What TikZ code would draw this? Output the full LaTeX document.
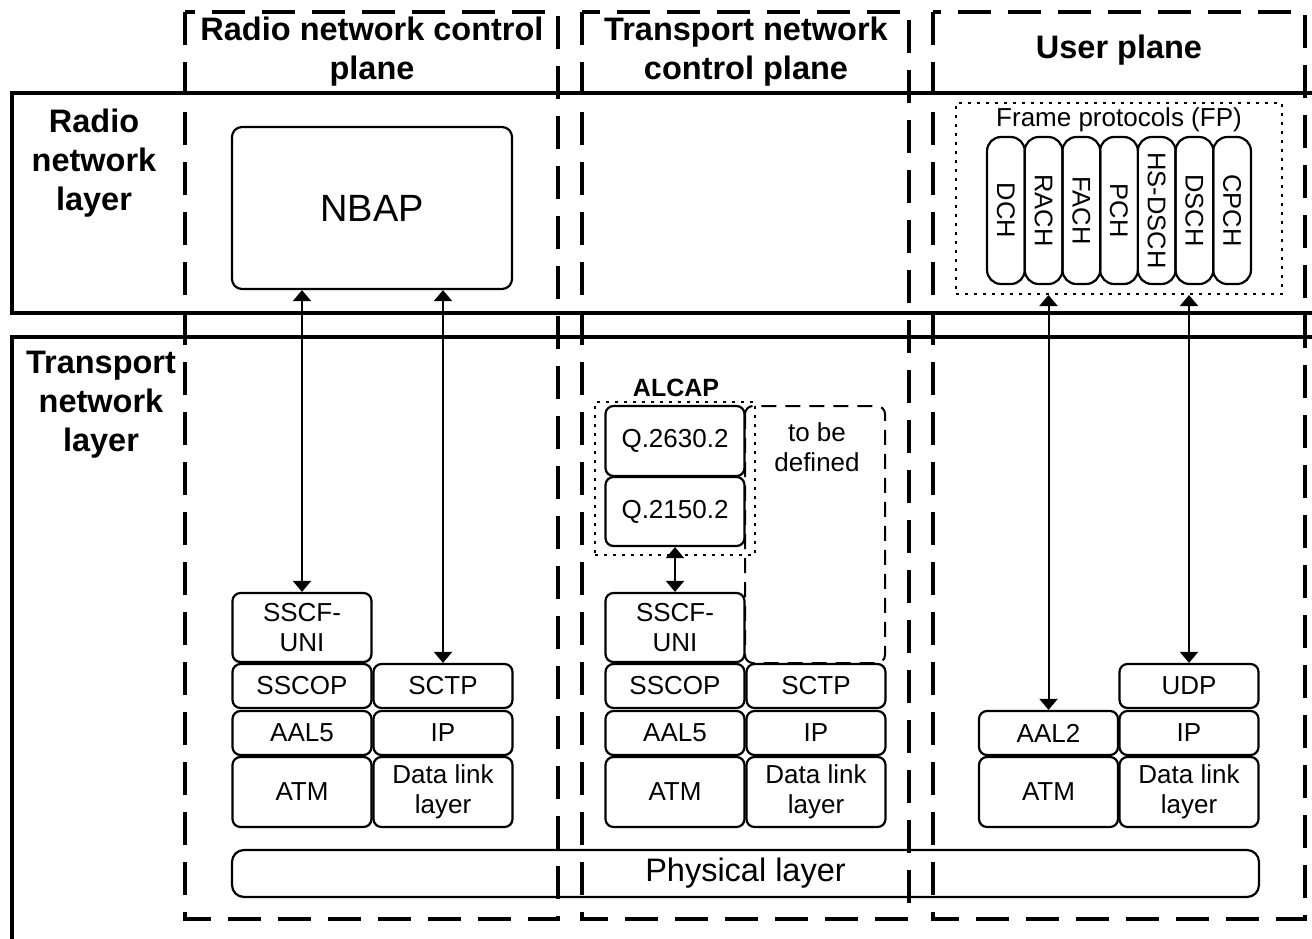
\documentclass[tikz,border=0pt]{standalone}
\usepackage{fontspec}
\setmainfont{Liberation Sans}
\usetikzlibrary{arrows.meta}

\tikzset{
  layerbox/.style={line width=3.5pt},
  planebox/.style={line width=4pt, dash pattern=on 33pt off 17pt},
  heading/.style={font=\bfseries\fontsize{32.5}{39}\selectfont, align=center, inner sep=0pt},
  proto/.style={draw, line width=2.2pt, rounded corners=8pt, align=center, inner sep=0pt,
    minimum width=139pt, font=\fontsize{26}{30}\selectfont},
  chan/.style={draw, line width=2.2pt, rounded corners=14pt, rotate=-90, inner sep=0pt,
    minimum width=147pt, minimum height=37.7pt, font=\fontsize{25.5}{30}\selectfont},
  dotbox/.style={draw, line width=2pt, dash pattern=on 3pt off 6pt, inner sep=0pt},
  tbdbox/.style={line width=2pt, dash pattern=on 15pt off 9pt, rounded corners=8pt},
  sigarrow/.style={line width=2pt,
    {Triangle[width=18pt,length=11pt]}-{Triangle[width=18pt,length=11pt]}}
}

\begin{document}
\begin{tikzpicture}[x=1pt,y=-1pt]

    % Page frame
    \useasboundingbox (0,0) rectangle (1312,938);
    \clip (0,0) rectangle (1312,938);

    % Draw the two layers
    \draw[layerbox] (12,93) rectangle (1340,313);
    \draw[layerbox] (12,337) rectangle (1340,960);

    % Draw the three planes
    \draw[planebox] (185,12) rectangle (558,919);
    \draw[planebox] (582,12) rectangle (909,919);
    \draw[planebox] (933,12) rectangle (1305,919);

    % Plane and layer titles
    \node[heading] (rncp) at (372,52) {Radio network control\\plane};
    \node[heading] (tncp) at (746,52) {Transport network\\control plane};
    \node[heading] (up) at (1119,50) {User plane};
    \node[heading] (rnl) at (94,163) {Radio\\network\\layer};
    \node[heading] (tnl) at (101,405) {Transport\\network\\layer};

    % Radio network control plane
    \node[proto, minimum width=280pt, minimum height=162pt, rounded corners=10pt,
      font=\fontsize{38}{44}\selectfont] (nbap) at (372,208) {NBAP};
    \node[proto, minimum height=69pt] (sscfa) at (302,627.5) {SSCF-\\UNI};
    \node[proto, minimum height=44pt] (sscopa) at (302,686) {SSCOP};
    \node[proto, minimum height=44pt] (aalfa) at (302,733) {AAL5};
    \node[proto, minimum height=70pt] (atma) at (302,792) {ATM};
    \node[proto, minimum height=44pt] (sctpa) at (443,686) {SCTP};
    \node[proto, minimum height=44pt] (ipa) at (443,733) {IP};
    \node[proto, minimum height=70pt] (dlla) at (443,792) {Data link\\layer};

    % Transport network control plane
    \node[dotbox, minimum width=160pt, minimum height=153pt] (alcap) at (675,478.5) {};
    \node[font=\bfseries\fontsize{25}{30}\selectfont, inner sep=0pt] (alcaplbl) at (676,388) {ALCAP};
    \draw[tbdbox] (745,406) rectangle (885,663);
    \node[align=center, inner sep=0pt, font=\fontsize{26}{30}\selectfont] (tbd) at (817,447) {to be\\defined};
    \node[proto, minimum height=70pt] (qa) at (675,441) {Q.2630.2};
    \node[proto, minimum height=69pt] (qb) at (675,511.5) {Q.2150.2};
    \node[proto, minimum height=69pt] (sscfb) at (675,627.5) {SSCF-\\UNI};
    \node[proto, minimum height=44pt] (sscopb) at (675,686) {SSCOP};
    \node[proto, minimum height=44pt] (aalfb) at (675,733) {AAL5};
    \node[proto, minimum height=70pt] (atmb) at (675,792) {ATM};
    \node[proto, minimum height=44pt] (sctpb) at (816,686) {SCTP};
    \node[proto, minimum height=44pt] (ipb) at (816,733) {IP};
    \node[proto, minimum height=70pt] (dllb) at (816,792) {Data link\\layer};

    % User plane
    \node[dotbox, minimum width=326pt, minimum height=191pt] (fp) at (1119,198.5) {};
    \node[inner sep=0pt, font=\fontsize{26}{30}\selectfont] (fplbl) at (1119,120) {Frame protocols (FP)};
    \node[chan] (dch) at (1005.9,210.5) {DCH};
    \node[chan] (rach) at (1043.6,210.5) {RACH};
    \node[chan] (fach) at (1081.3,210.5) {FACH};
    \node[chan] (pch) at (1119,210.5) {PCH};
    \node[chan] (hsdsch) at (1156.7,210.5) {HS-DSCH};
    \node[chan] (dsch) at (1194.4,210.5) {DSCH};
    \node[chan] (cpch) at (1232.1,210.5) {CPCH};
    \node[proto, minimum height=44pt] (aaltwo) at (1048.5,733) {AAL2};
    \node[proto, minimum height=70pt] (atmc) at (1048.5,792) {ATM};
    \node[proto, minimum height=44pt] (udp) at (1189,686) {UDP};
    \node[proto, minimum height=44pt] (ipc) at (1189,733) {IP};
    \node[proto, minimum height=70pt] (dllc) at (1189,792) {Data link\\layer};

    % Physical layer
    \node[proto, minimum width=1027pt, minimum height=47pt, rounded corners=12pt,
      font=\fontsize{32.5}{36}\selectfont] (phy) at (745.5,873.5) {Physical layer};

    % Draw the arrows
    \draw[sigarrow] (sscfa.north) -- (sscfa.north |- nbap.south);
    \draw[sigarrow] (sctpa.north) -- (sctpa.north |- nbap.south);
    \draw[sigarrow] (sscfb.north) -- (sscfb.north |- qb.south);
    \draw[sigarrow] (aaltwo.north) -- (aaltwo.north |- fp.south);
    \draw[sigarrow] (udp.north) -- (udp.north |- fp.south);

\end{tikzpicture}
\end{document}
